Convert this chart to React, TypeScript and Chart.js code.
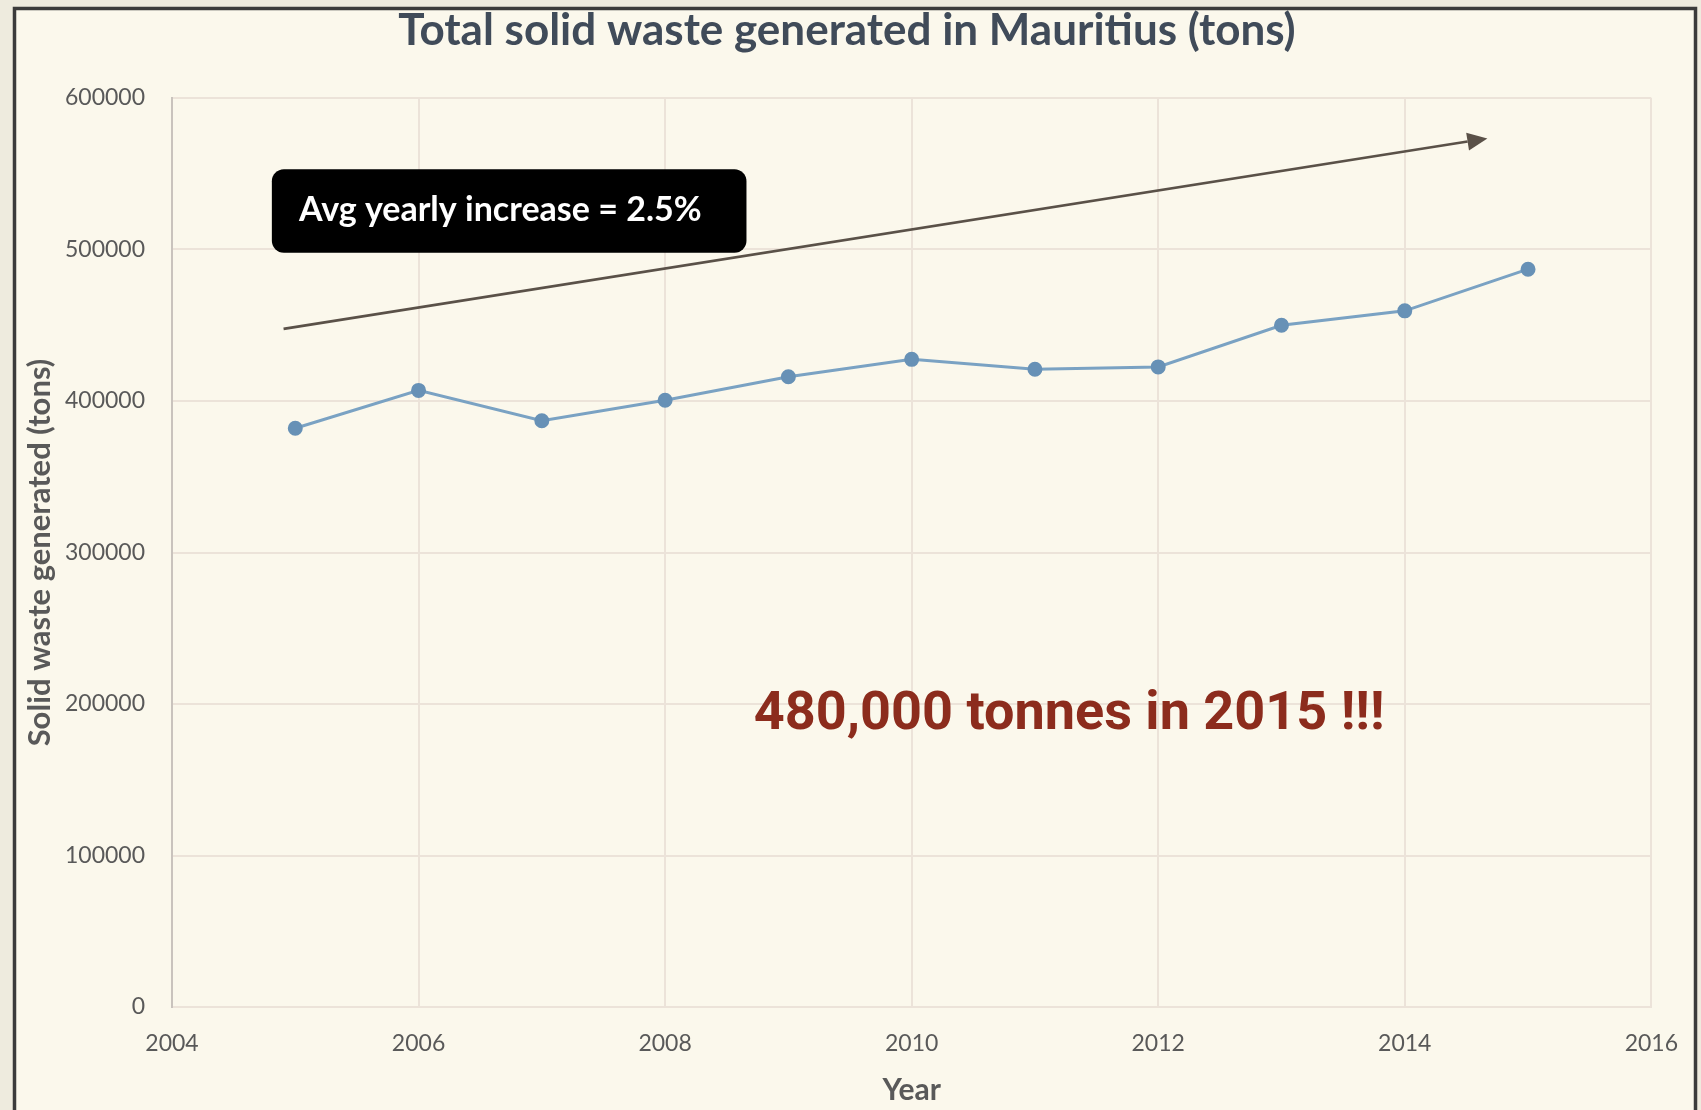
import React, { useEffect, useRef } from 'react';
import { Chart, registerables } from 'chart.js';

Chart.register(...registerables);

// ---- data ----
const YEARS = [2005, 2006, 2007, 2008, 2009, 2010, 2011, 2012, 2013, 2014, 2015];
const WASTE_TONS = [382000, 407000, 387000, 400500, 416000, 427500, 421000, 422500, 450000, 459500, 487000];
const X_TICKS = [2004, 2006, 2008, 2010, 2012, 2014, 2016];
const Y_TICKS = [0, 100000, 200000, 300000, 400000, 500000, 600000];

const TITLE = 'Total solid waste generated in Mauritius (tons)';
const Y_TITLE = 'Solid waste generated (tons)';
const X_TITLE = 'Year';

// trend arrow (data units)
const TREND_START = { x: 2004.905, y: 447600 };
const TREND_END = { x: 2014.67, y: 573300 };

// callout box (data units)
const CALLOUT_TEXT = 'Avg yearly increase = 2.5%';
const CALLOUT_BOX = { x0: 2004.81, y0: 552900, x1: 2008.66, y1: 497900 };
const CALLOUT_TEXT_AT = { x: 2005.03, y: 518800 };

// highlight text (data units)
const HIGHLIGHT_TEXT = '480,000 tonnes in 2015 !!!';
const HIGHLIGHT_AT = { x: 2008.72, y: 183200 };

const decorPlugin = {
  id: 'decor',
  beforeDraw(chart: any) {
    const { ctx, width, height } = chart;
    ctx.save();
    ctx.fillStyle = '#eeebde';
    ctx.fillRect(0, 0, width, height);
    ctx.fillStyle = '#fbf8ec';
    ctx.fillRect(13, 7, 1697 - 13, height);
    ctx.strokeStyle = '#3b3b3b';
    ctx.lineWidth = 3.5;
    ctx.beginPath();
    ctx.moveTo(14.5, height + 5);
    ctx.lineTo(14.5, 8.5);
    ctx.lineTo(1695.5, 8.5);
    ctx.lineTo(1695.5, height + 5);
    ctx.stroke();

    // chart title
    ctx.fillStyle = '#404b59';
    ctx.font = 'bold 44px Lato';
    ctx.textAlign = 'center';
    ctx.textBaseline = 'alphabetic';
    ctx.fillText(TITLE, 847, 45);
    ctx.restore();
  },
  afterDatasetsDraw(chart: any) {
    const { ctx } = chart;
    const xs = chart.scales.x;
    const ys = chart.scales.y;
    const px = (v: number) => xs.getPixelForValue(v);
    const py = (v: number) => ys.getPixelForValue(v);
    ctx.save();

    // trend arrow
    const x0 = px(TREND_START.x), y0 = py(TREND_START.y);
    const x1 = px(TREND_END.x), y1 = py(TREND_END.y);
    const ang = Math.atan2(y1 - y0, x1 - x0);
    const headLen = 20, headHalf = 9;
    const bx = x1 - headLen * Math.cos(ang), by = y1 - headLen * Math.sin(ang);
    ctx.strokeStyle = '#5a5148';
    ctx.fillStyle = '#5a5148';
    ctx.lineWidth = 2.6;
    ctx.beginPath();
    ctx.moveTo(x0, y0);
    ctx.lineTo(bx, by);
    ctx.stroke();
    ctx.beginPath();
    ctx.moveTo(x1, y1);
    ctx.lineTo(bx + headHalf * Math.sin(ang), by - headHalf * Math.cos(ang));
    ctx.lineTo(bx - headHalf * Math.sin(ang), by + headHalf * Math.cos(ang));
    ctx.closePath();
    ctx.fill();

    // callout box
    const rx0 = px(CALLOUT_BOX.x0), ry0 = py(CALLOUT_BOX.y0);
    const rx1 = px(CALLOUT_BOX.x1), ry1 = py(CALLOUT_BOX.y1);
    ctx.fillStyle = '#000000';
    ctx.beginPath();
    (ctx as any).roundRect(rx0, ry0, rx1 - rx0, ry1 - ry0, 12);
    ctx.fill();
    ctx.fillStyle = '#ffffff';
    ctx.font = 'bold 34px Lato';
    ctx.textAlign = 'left';
    ctx.textBaseline = 'alphabetic';
    ctx.fillText(CALLOUT_TEXT, px(CALLOUT_TEXT_AT.x), py(CALLOUT_TEXT_AT.y));

    // highlight text
    ctx.fillStyle = '#8c2c1d';
    ctx.font = 'bold 54px Roboto';
    ctx.fillText(HIGHLIGHT_TEXT, px(HIGHLIGHT_AT.x), py(HIGHLIGHT_AT.y));

    ctx.restore();
  },
};

export default function App() {
  const canvasRef = useRef<HTMLCanvasElement | null>(null);

  useEffect(() => {
    document.body.style.margin = '0';
    const canvas = canvasRef.current;
    if (!canvas) return;
    const chart = new Chart(canvas, {
      type: 'line',
      data: {
        datasets: [
          {
            label: 'Solid waste',
            data: YEARS.map((y, i) => ({ x: y, y: WASTE_TONS[i] })),
            borderColor: '#7aa2c3',
            backgroundColor: '#6791b6',
            pointBackgroundColor: '#6791b6',
            pointBorderColor: '#6791b6',
            borderWidth: 3,
            pointRadius: 6,
            pointHoverRadius: 6,
            tension: 0,
            fill: false,
          },
        ],
      },
      options: {
        responsive: false,
        animation: false,
        devicePixelRatio: 1,
        layout: { padding: { left: 0, right: 44, top: 98, bottom: 0 } },
        plugins: {
          legend: { display: false },
          tooltip: { enabled: false },
          title: { display: false },
        },
        scales: {
          x: {
            type: 'linear',
            min: 2004,
            max: 2016,
            afterBuildTicks: (s: any) => {
              s.ticks = X_TICKS.map((v) => ({ value: v }));
            },
            afterFit: (s: any) => {
              s.height = 103;
            },
            ticks: {
              color: '#595959',
              font: { family: 'Lato', size: 23 },
              padding: 23,
              maxRotation: 0,
              autoSkip: false,
              callback: (v: any) => String(v),
            },
            grid: { color: '#ece3d9', lineWidth: 2, drawTicks: false },
            border: { color: '#ece3d9', width: 2 },
            title: {
              display: true,
              text: X_TITLE,
              color: '#595959',
              font: { family: 'Lato', size: 30, weight: 'bold', lineHeight: 1.2 },
              padding: { top: 0, bottom: 2 },
            },
          },
          y: {
            type: 'linear',
            min: 0,
            max: 600000,
            afterBuildTicks: (s: any) => {
              s.ticks = Y_TICKS.map((v) => ({ value: v }));
            },
            afterFit: (s: any) => {
              s.width = 172;
            },
            ticks: {
              color: '#595959',
              font: { family: 'Lato', size: 23 },
              padding: 27,
              callback: (v: any) => String(v),
            },
            grid: { color: '#ece3d9', lineWidth: 2, drawTicks: false },
            border: { color: '#c9c3bd', width: 2 },
            title: {
              display: true,
              text: Y_TITLE,
              color: '#595959',
              font: { family: 'Lato', size: 31, weight: 'bold', lineHeight: 1.2 },
              padding: { top: 21, bottom: 0 },
            },
          },
        },
      },
      plugins: [decorPlugin],
    });
    return () => chart.destroy();
  }, []);

  return (
    <div style={{ position: 'absolute', left: 0, top: 0, width: 1701, height: 1110 }}>
      <canvas ref={canvasRef} width={1701} height={1110} style={{ display: 'block' }} />
    </div>
  );
}
